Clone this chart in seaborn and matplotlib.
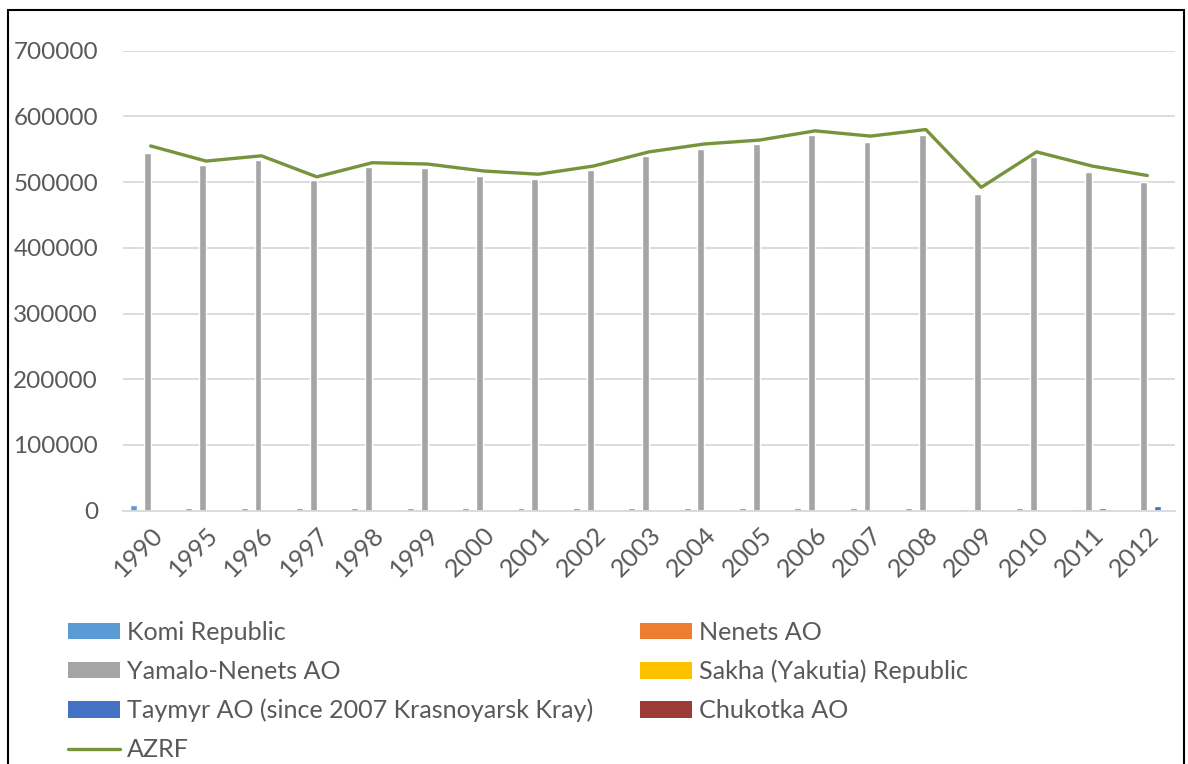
import numpy as np
import pandas as pd
import matplotlib
matplotlib.use("Agg")
import matplotlib.pyplot as plt
from matplotlib.patches import Patch, Rectangle
from matplotlib.lines import Line2D
import seaborn as sns

# Annual values by region of the Arctic zone of the Russian Federation
years = ["1990", "1995", "1996", "1997", "1998", "1999", "2000", "2001", "2002",
         "2003", "2004", "2005", "2006", "2007", "2008", "2009", "2010", "2011", "2012"]
komi = [9000, 4500, 4500, 4000, 4000, 4000, 4000, 4000, 3500, 4000,
        3500, 3500, 3500, 3500, 3500, 3000, 3500, 2500, 1500]
nenets = [0, 0, 0, 0, 0, 0, 0, 0, 0, 0,
          0, 0, 0, 0, 500, 500, 0, 0, 0]
yamalo = [545000, 526000, 534000, 503000, 522500, 521000, 509000, 505000, 518000, 540000,
          551000, 557500, 571500, 561500, 571500, 482000, 537500, 516000, 500000]
sakha = [0, 800, 800, 800, 800, 800, 800, 800, 800, 800,
         800, 800, 800, 800, 800, 1000, 1200, 1200, 1500]
taymyr = [0, 0, 0, 0, 0, 0, 0, 0, 0, 0,
          0, 0, 0, 0, 0, 1000, 1500, 4500, 6500]
chukotka = [0, 0, 0, 0, 0, 0, 0, 0, 0, 0,
            700, 0, 800, 900, 900, 1000, 1000, 1000, 1000]
azrf = [555000, 532000, 540000, 508000, 529500, 527500, 517000, 512000, 524500, 546000,
        558000, 564000, 578000, 570000, 580000, 492000, 546000, 524500, 510000]

regions = ["Komi Republic", "Nenets AO", "Yamalo-Nenets AO", "Sakha (Yakutia) Republic",
           "Taymyr AO (since 2007 Krasnoyarsk Kray)", "Chukotka AO"]
series = [komi, nenets, yamalo, sakha, taymyr, chukotka]
colors = ["#5B9BD5", "#ED7D31", "#A5A5A5", "#FFC000", "#4472C4", "#9B3A36"]
line_color = "#77933C"
text_color = "#595959"

df = pd.DataFrame({
    "year": np.tile(years, len(regions)),
    "region": np.repeat(regions, len(years)),
    "value": np.concatenate(series),
})

sns.set_theme(style="white")
plt.rcParams["font.family"] = ["Lato", "DejaVu Sans"]

fig = plt.figure(figsize=(11.88, 7.64), dpi=100)
ax = fig.add_axes([123 / 1188, 1 - 510.6 / 764, (1175 - 123) / 1188, (510.6 - 50.7) / 764])

sns.barplot(data=df, x="year", y="value", hue="region", order=years, hue_order=regions,
            palette=dict(zip(regions, colors)), width=0.75, saturation=1,
            errorbar=None, legend=False, ax=ax)
sns.lineplot(x=np.arange(len(years)), y=azrf, color=line_color, linewidth=2.4, ax=ax)

ax.set_xlim(-0.5, len(years) - 0.5)
ax.set_ylim(0, 700000)
ax.set_yticks(np.arange(0, 700001, 100000))
ax.set_yticklabels([f"{v:d}" for v in range(0, 700001, 100000)])
ax.set_xticks(np.arange(len(years)))
ax.set_xticklabels(years, rotation=45, ha="right", rotation_mode="anchor")
ax.set_xlabel("")
ax.set_ylabel("")

ax.grid(axis="y", color="#D9D9D9", linewidth=1.3)
ax.set_axisbelow(True)
for side in ["top", "right", "left"]:
    ax.spines[side].set_visible(False)
ax.spines["bottom"].set_color("#D9D9D9")
ax.spines["bottom"].set_linewidth(1.3)
ax.tick_params(axis="both", length=0, labelcolor=text_color)
ax.tick_params(axis="y", pad=18, labelsize=17.5)
ax.tick_params(axis="x", pad=9, labelsize=18.3)

# Legend: two columns laid out row by row
patch_handles = [Patch(facecolor=c, edgecolor="none") for c in colors]
line_handle = Line2D([], [], color=line_color, linewidth=2.4)
leg_kw = dict(frameon=False, fontsize=18.1, labelcolor=text_color, handlelength=2.05,
              handleheight=0.63, handletextpad=0.28, labelspacing=0.63, borderpad=0,
              borderaxespad=0, loc="upper left")
leg1 = fig.legend([patch_handles[0], patch_handles[2], patch_handles[4], line_handle],
                  [regions[0], regions[2], regions[4], "AZRF"],
                  bbox_to_anchor=(68 / 1188, 1 - 621 / 764), **leg_kw)
leg2 = fig.legend([patch_handles[1], patch_handles[3], patch_handles[5]],
                  [regions[1], regions[3], regions[5]],
                  bbox_to_anchor=(640 / 1188, 1 - 621 / 764), **leg_kw)

# Chart frame
fig.patches.append(Rectangle((8 / 1188, -0.02), (1184 - 8) / 1188, 1.02 - 10 / 764,
                             transform=fig.transFigure, fill=False,
                             edgecolor="black", linewidth=1.5))

fig.savefig("out.png", dpi=100)
